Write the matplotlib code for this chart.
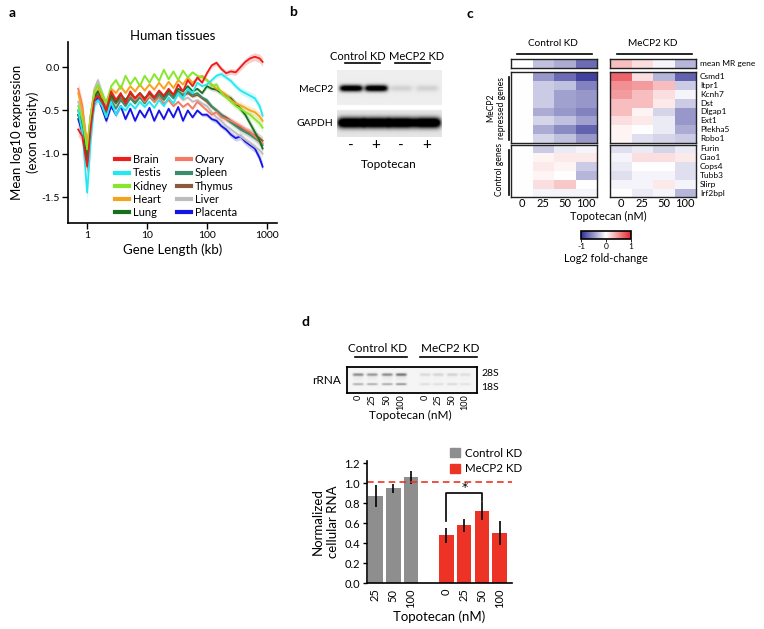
import numpy as np
import matplotlib
matplotlib.use('Agg')
import matplotlib.pyplot as plt
from matplotlib.colors import LinearSegmentedColormap
from matplotlib.lines import Line2D
from matplotlib.patches import Patch

plt.rcParams['font.family'] = ['Lato', 'DejaVu Sans']

# ---------------- DATA ----------------
# Panel a: gene length (log10 kb) and mean log10 expression per tissue
log_kb = [-0.15, -0.08, 0.0, 0.06, 0.12, 0.18, 0.25, 0.32, 0.4, 0.48, 0.56, 0.64, 0.72, 0.8,
          0.88, 0.96, 1.04, 1.12, 1.2, 1.28, 1.36, 1.44, 1.52, 1.6, 1.68, 1.76, 1.84, 1.92,
          2.0, 2.08, 2.16, 2.24, 2.32, 2.4, 2.48, 2.56, 2.64, 2.72, 2.8, 2.88, 2.93]
brain = [-0.72, -0.80, -1.15, -0.70, -0.38, -0.33, -0.40, -0.50, -0.28, -0.38, -0.30, -0.42, -0.28, -0.36,
         -0.30, -0.38, -0.28, -0.35, -0.27, -0.33, -0.25, -0.32, -0.20, -0.28, -0.15, -0.22, -0.12, -0.18,
         -0.07, 0.02, 0.05, -0.02, -0.07, -0.05, -0.06, 0.00, 0.06, 0.10, 0.12, 0.10, 0.06]
testis = [-0.50, -0.75, -1.45, -0.85, -0.42, -0.38, -0.45, -0.58, -0.40, -0.55, -0.45, -0.50, -0.42, -0.48,
          -0.40, -0.46, -0.40, -0.47, -0.38, -0.45, -0.35, -0.42, -0.30, -0.36, -0.25, -0.30, -0.18, -0.22,
          -0.20, -0.15, -0.10, -0.08, -0.12, -0.16, -0.22, -0.27, -0.30, -0.33, -0.36, -0.45, -0.56]
kidney = [-0.45, -0.60, -0.95, -0.55, -0.30, -0.20, -0.30, -0.42, -0.22, -0.15, -0.25, -0.10, -0.20, -0.12,
          -0.22, -0.10, -0.18, -0.08, -0.16, -0.03, -0.14, -0.05, -0.15, -0.04, -0.12, -0.06, -0.10, -0.12,
          -0.15, -0.22, -0.20, -0.30, -0.35, -0.40, -0.45, -0.48, -0.52, -0.55, -0.60, -0.65, -0.70]
heart = [-0.30, -0.50, -0.90, -0.55, -0.28, -0.22, -0.35, -0.40, -0.25, -0.30, -0.22, -0.30, -0.22, -0.28,
         -0.20, -0.27, -0.20, -0.26, -0.18, -0.25, -0.17, -0.24, -0.15, -0.20, -0.12, -0.18, -0.13, -0.10,
         -0.15, -0.20, -0.25, -0.28, -0.32, -0.38, -0.42, -0.44, -0.47, -0.50, -0.52, -0.57, -0.62]
lung = [-0.55, -0.70, -1.10, -0.65, -0.35, -0.28, -0.38, -0.50, -0.32, -0.40, -0.32, -0.38, -0.30, -0.36,
        -0.30, -0.36, -0.30, -0.35, -0.28, -0.34, -0.27, -0.32, -0.25, -0.28, -0.22, -0.28, -0.25, -0.30,
        -0.22, -0.25, -0.26, -0.30, -0.33, -0.36, -0.42, -0.48, -0.55, -0.65, -0.75, -0.85, -0.94]
ovary = [-0.25, -0.45, -0.95, -0.55, -0.30, -0.30, -0.40, -0.45, -0.30, -0.38, -0.33, -0.40, -0.32, -0.38,
         -0.32, -0.40, -0.33, -0.40, -0.35, -0.42, -0.38, -0.45, -0.40, -0.46, -0.42, -0.48, -0.40, -0.45,
         -0.50, -0.55, -0.52, -0.58, -0.60, -0.62, -0.65, -0.68, -0.72, -0.75, -0.80, -0.85, -0.88]
spleen = [-0.55, -0.72, -1.10, -0.65, -0.38, -0.32, -0.45, -0.58, -0.38, -0.48, -0.38, -0.45, -0.36, -0.42,
          -0.35, -0.42, -0.34, -0.40, -0.32, -0.38, -0.30, -0.36, -0.28, -0.32, -0.28, -0.32, -0.30, -0.35,
          -0.38, -0.45, -0.50, -0.55, -0.60, -0.64, -0.68, -0.72, -0.75, -0.78, -0.82, -0.86, -0.90]
thymus = [-0.50, -0.68, -1.05, -0.62, -0.36, -0.28, -0.42, -0.52, -0.35, -0.42, -0.35, -0.42, -0.34, -0.40,
          -0.33, -0.40, -0.32, -0.38, -0.31, -0.37, -0.30, -0.35, -0.28, -0.33, -0.30, -0.34, -0.32, -0.36,
          -0.40, -0.46, -0.50, -0.55, -0.58, -0.62, -0.66, -0.70, -0.73, -0.76, -0.79, -0.82, -0.85]
liver = [-0.40, -0.55, -0.95, -0.55, -0.25, -0.15, -0.30, -0.45, -0.30, -0.38, -0.32, -0.40, -0.30, -0.36,
         -0.32, -0.38, -0.30, -0.36, -0.30, -0.36, -0.30, -0.36, -0.32, -0.38, -0.35, -0.40, -0.38, -0.42,
         -0.45, -0.52, -0.58, -0.62, -0.68, -0.72, -0.76, -0.80, -0.84, -0.88, -0.92, -0.96, -1.00]
placenta = [-0.60, -0.75, -1.10, -0.70, -0.42, -0.35, -0.48, -0.62, -0.45, -0.55, -0.45, -0.60, -0.48, -0.62,
            -0.50, -0.58, -0.47, -0.62, -0.50, -0.60, -0.48, -0.58, -0.46, -0.62, -0.50, -0.58, -0.50, -0.55,
            -0.55, -0.60, -0.62, -0.68, -0.72, -0.78, -0.82, -0.80, -0.86, -0.90, -0.94, -1.05, -1.15]
ci = [0.08, 0.08, 0.10, 0.07, 0.05, 0.04, 0.04, 0.035, 0.03, 0.03, 0.025, 0.025, 0.02, 0.02,
      0.02, 0.02, 0.02, 0.02, 0.02, 0.02, 0.02, 0.02, 0.02, 0.02, 0.02, 0.02, 0.02, 0.02,
      0.025, 0.025, 0.03, 0.03, 0.03, 0.035, 0.035, 0.04, 0.04, 0.045, 0.045, 0.05, 0.05]
tissues = ['Brain', 'Testis', 'Kidney', 'Heart', 'Lung', 'Ovary', 'Spleen', 'Thymus', 'Liver', 'Placenta']
tissue_vals = [brain, testis, kidney, heart, lung, ovary, spleen, thymus, liver, placenta]
tissue_colors = ['#ee1c1c', '#22e8f0', '#86e62a', '#f7a21b', '#16701c', '#f47a63', '#3a8c6a',
                 '#8a5a3c', '#bdbdbd', '#1414e6']

# Panel b: western blot band intensities
blot_lanes = ['-', '+', '-', '+']
mecp2_band = [1.3, 1.3, 0.12, 0.12]
gapdh_band = [1.6, 1.6, 1.6, 1.6]

# Panel c: log2 fold-change heatmaps
doses = ['0', '25', '50', '100']
repressed_genes = ['Csmd1', 'Itpr1', 'Kcnh7', 'Dst', 'Dlgap1', 'Ext1', 'Plekha5', 'Robo1']
control_genes = ['Furin', 'Ciao1', 'Cops4', 'Tubb3', 'Slirp', 'Irf2bpl']
ctrl_mean = [0.0, -0.30, -0.40, -0.70]
mecp2_mean = [0.30, 0.15, -0.05, -0.35]
ctrl_repressed = [[0, -0.50, -0.70, -0.90],
                  [0, -0.25, -0.30, -0.60],
                  [0, -0.25, -0.45, -0.50],
                  [0, -0.25, -0.45, -0.50],
                  [0, -0.40, -0.50, -0.60],
                  [0, -0.20, -0.30, -0.45],
                  [0, -0.40, -0.55, -0.75],
                  [0, -0.20, -0.30, -0.50]]
mecp2_repressed = [[0.70, 0.15, -0.35, -0.75],
                   [0.50, 0.45, 0.30, -0.25],
                   [0.45, 0.30, 0.15, -0.05],
                   [0.30, 0.30, 0.10, -0.25],
                   [0.30, 0.05, -0.20, -0.50],
                   [0.15, 0.10, -0.10, -0.50],
                   [0.05, 0.00, -0.10, -0.40],
                   [0.05, -0.15, -0.20, -0.25]]
ctrl_control = [[0, -0.25, -0.10, -0.05],
                [0, 0.05, 0.10, 0.10],
                [0, 0.10, 0.05, -0.25],
                [0, 0.05, 0.00, -0.35],
                [0, 0.15, 0.25, 0.00],
                [0, -0.05, -0.05, -0.05]]
mecp2_control = [[-0.15, -0.10, -0.20, -0.10],
                 [-0.05, 0.15, 0.15, 0.10],
                 [-0.10, 0.00, 0.00, -0.15],
                 [-0.15, -0.05, -0.05, -0.15],
                 [-0.05, -0.05, 0.10, -0.05],
                 [0.00, -0.10, -0.05, -0.35]]

# Panel d: rRNA gel band intensities and normalized RNA
gel_28s = [0.45, 0.40, 0.45, 0.55, 0.12, 0.14, 0.15, 0.10]
gel_18s = [0.30, 0.30, 0.32, 0.40, 0.10, 0.10, 0.12, 0.08]
ctrl_doses = ['25', '50', '100']
ctrl_rna = [0.87, 0.95, 1.06]
ctrl_err = [0.11, 0.045, 0.065]
kd_doses = ['0', '25', '50', '100']
kd_rna = [0.48, 0.58, 0.72, 0.50]
kd_err = [0.075, 0.065, 0.09, 0.12]

# ---------------- FIGURE ----------------
W, H = 764, 629
fig = plt.figure(figsize=(W / 100, H / 100), dpi=100)


def axpx(x0, y0, x1, y1):
    return fig.add_axes([x0 / W, 1 - y1 / H, (x1 - x0) / W, (y1 - y0) / H])


def ftext(x, y, s, **kw):
    return fig.text(x / W, 1 - y / H, s, **kw)


def fline(x0, y0, x1, y1, **kw):
    kw.setdefault('color', 'black')
    kw.setdefault('lw', 1.2)
    fig.add_artist(Line2D([x0 / W, x1 / W], [1 - y0 / H, 1 - y1 / H], transform=fig.transFigure, **kw))


# panel letters
for lx, ly, lt in [(12, 13, 'a'), (293, 12, 'b'), (470, 14, 'c'), (306, 322, 'd')]:
    ftext(lx, ly, lt, fontsize=10, fontweight='bold', ha='center', va='center')

# ---------- Panel a ----------
ax = axpx(68, 42, 277, 223)
xk = 10 ** np.array(log_kb)
cia = np.array(ci)
handles = {}
for name, vals, col in reversed(list(zip(tissues, tissue_vals, tissue_colors))):
    v = np.array(vals)
    ax.fill_between(xk, v - cia, v + cia, color=col, alpha=0.22, lw=0)
    ax.plot(xk, v, color=col, lw=1.3)
    handles[name] = Line2D([], [], color=col, lw=3)
ax.set_xscale('log')
ax.set_xlim(10 ** -0.32, 10 ** 3.17)
ax.set_ylim(-1.8, 0.29)
ax.set_xticks([1, 10, 100, 1000])
ax.set_xticklabels(['1', '10', '100', '1000'])
ax.xaxis.set_minor_locator(matplotlib.ticker.NullLocator())
ax.set_yticks([0.0, -0.5, -1.0, -1.5])
ax.set_yticklabels(['0.0', '-0.5', '-1.0', '-1.5'])
ax.tick_params(labelsize=7.5, length=4, width=1, direction='out', pad=2)
for s in ['top', 'right']:
    ax.spines[s].set_visible(False)
for s in ['left', 'bottom']:
    ax.spines[s].set_linewidth(1.2)
ax.set_title('Human tissues', fontsize=9.5, pad=1)
ax.set_xlabel('Gene Length (kb)', fontsize=9.5, labelpad=2)
ax.set_ylabel('Mean log10 expression\n(exon density)', fontsize=9.5, labelpad=2, linespacing=1.25)
ax.legend([handles[t] for t in tissues], tissues, ncol=2, frameon=False, loc='upper left',
          bbox_to_anchor=(0.225, 0.38), fontsize=8, handlelength=1.3, handletextpad=0.3,
          columnspacing=0.9, labelspacing=0.2, borderpad=0, borderaxespad=0)

# ---------- Panel b ----------
axb = axpx(337, 70, 442, 137)
ys = np.arange(70, 137, 0.5)
xs = np.arange(337, 442, 0.5)
XX, YY = np.meshgrid(xs, ys)
lane_x = [351, 376, 401, 427]
img = np.ones_like(XX)
img[(YY < 105)] = 0.93
img[(YY >= 110)] = 0.90
dm = np.zeros_like(XX)
dg = np.zeros_like(XX)
for cx, im_, ig in zip(lane_x, mecp2_band, gapdh_band):
    dm += im_ * np.exp(-((XX - cx) / 11.5) ** 6) * np.exp(-((YY - 88) / 3.2) ** 2)
    dg += ig * np.exp(-((XX - cx) / 13.5) ** 6) * np.exp(-((YY - 122.5) / 5.0) ** 2)
img = img * (1 - np.clip(dm + dg, 0, 1))
axb.imshow(img, cmap='gray', vmin=0, vmax=1, extent=(337, 442, 137, 70), aspect='auto',
           interpolation='bilinear')
axb.set_xlim(337, 442)
axb.set_ylim(137, 70)
for s in axb.spines.values():
    s.set_visible(False)
axb.set_yticks([])
axb.set_xticks(lane_x)
axb.set_xticklabels(blot_lanes, fontsize=11)
axb.tick_params(axis='x', length=0, pad=1)
ftext(333, 89, 'MeCP2', fontsize=7.5, ha='right', va='center')
ftext(333, 123, 'GAPDH', fontsize=7.5, ha='right', va='center')
ftext(358, 57, 'Control KD', fontsize=8, ha='center', va='center')
ftext(417, 57, 'MeCP2 KD', fontsize=8, ha='center', va='center')
fline(345, 63, 380, 63)
fline(395, 63, 430, 63)
ftext(389, 165, 'Topotecan', fontsize=8.5, ha='center', va='center')

# ---------- Panel c ----------
cmap = LinearSegmentedColormap.from_list('bwr_c', ['#2e2e94', '#ffffff', '#e3242b'])


def heat(x0, x1, y0, y1, data):
    a = axpx(x0, y0, x1, y1)
    arr = np.array(data, dtype=float)
    if arr.ndim == 1:
        arr = arr[None, :]
    m = a.pcolormesh(arr, cmap=cmap, vmin=-1, vmax=1)
    a.set_xlim(0, arr.shape[1])
    a.set_ylim(arr.shape[0], 0)
    a.set_xticks([])
    a.set_yticks([])
    for s in a.spines.values():
        s.set_linewidth(1.0)
        s.set_color('#222222')
    return a, m


panels = [(511, 597, ctrl_mean, ctrl_repressed, ctrl_control),
          (610, 696, mecp2_mean, mecp2_repressed, mecp2_control)]
for x0, x1, mn, rep, con in panels:
    heat(x0, x1, 59, 68, mn)
    heat(x0, x1, 72, 143, rep)
    a3, mesh = heat(x0, x1, 144.5, 197.5, con)
    a3.set_xticks(np.arange(4) + 0.5)
    a3.set_xticklabels(doses, fontsize=8)
    a3.tick_params(axis='x', length=0, pad=0.5)

ftext(553, 43, 'Control KD', fontsize=7.2, ha='center', va='center')
ftext(653, 43, 'MeCP2 KD', fontsize=7.2, ha='center', va='center')
fline(517, 54, 592, 54)
fline(617, 54, 692, 54)
ftext(700, 63.5, 'mean MR gene', fontsize=6, ha='left', va='center')
for i, g in enumerate(repressed_genes):
    ftext(700, 72 + (i + 0.5) * 71 / 8, g, fontsize=6, ha='left', va='center')
for i, g in enumerate(control_genes):
    ftext(700, 144.5 + (i + 0.5) * 53 / 6, g, fontsize=6, ha='left', va='center')
ftext(608, 216.5, 'Topotecan (nM)', fontsize=7.8, ha='center', va='center')
ftext(496, 108, 'MeCP2\nrepressed genes', fontsize=6.2, ha='center', va='center', rotation=90,
      linespacing=1.15)
fline(509, 77, 509, 140, lw=1.2)
ftext(500, 169, 'Control genes', fontsize=6.2, ha='center', va='center', rotation=90)
fline(509, 150, 509, 195, lw=1.2)

cax = axpx(581, 231, 631, 239)
cb = fig.colorbar(mesh, cax=cax, orientation='horizontal')
cb.set_ticks([-1, 0, 1])
cb.set_ticklabels(['-1', '0', '1'])
cb.ax.tick_params(labelsize=6, length=2, width=0.6, pad=1)
cb.outline.set_linewidth(1.2)
ftext(606, 259, 'Log2 fold-change', fontsize=7.8, ha='center', va='center')

# ---------- Panel d: gel ----------
axg = axpx(347, 367, 477, 393)
gys = np.arange(367, 393, 0.25)
gxs = np.arange(347, 477, 0.5)
GX, GY = np.meshgrid(gxs, gys)
gel_x = [358, 372, 387, 401, 425, 438, 452, 465]
d = np.zeros_like(GX)
for cx, i28, i18 in zip(gel_x, gel_28s, gel_18s):
    band = np.exp(-((GX - cx) / 5.5) ** 6)
    d += band * (i28 * np.exp(-((GY - 374.5) / 1.4) ** 2) + i18 * np.exp(-((GY - 384) / 1.1) ** 2))
    d += band * 0.08 * i28 * np.exp(-((GY - 378) / 2.5) ** 2)
gimg = 0.96 * (1 - np.clip(d, 0, 1))
axg.imshow(gimg, cmap='gray', vmin=0, vmax=1, extent=(347, 477, 393, 367), aspect='auto',
           interpolation='bilinear')
axg.set_xlim(347, 477)
axg.set_ylim(393, 367)
for s in axg.spines.values():
    s.set_linewidth(1.3)
axg.set_yticks([])
axg.set_xticks(gel_x)
axg.set_xticklabels(doses + doses, rotation=90, fontsize=6.6)
axg.tick_params(axis='x', length=0, pad=1)
ftext(327, 380, 'rRNA', fontsize=8.5, ha='center', va='center')
ftext(481, 373, '28S', fontsize=7.5, ha='left', va='center')
ftext(481, 387, '18S', fontsize=7.5, ha='left', va='center')
ftext(378, 349, 'Control KD', fontsize=8.5, ha='center', va='center')
ftext(450, 349, 'MeCP2 KD', fontsize=8.5, ha='center', va='center')
fline(355, 357, 407, 357)
fline(420, 357, 477, 357)
ftext(410, 415.5, 'Topotecan (nM)', fontsize=8.5, ha='center', va='center')

# ---------- Panel d: bars ----------
axd = axpx(367, 461, 512, 583)
pos_c = [0, 1, 2]
pos_k = [4, 5, 6, 7]
axd.bar(pos_c, ctrl_rna, width=0.82, color='#8e8e8e', label='Control KD')
axd.bar(pos_k, kd_rna, width=0.82, color='#ec3325', label='MeCP2 KD')
axd.errorbar(pos_c, ctrl_rna, yerr=ctrl_err, fmt='none', ecolor='black', elinewidth=1.2, capsize=0)
axd.errorbar(pos_k, kd_rna, yerr=kd_err, fmt='none', ecolor='black', elinewidth=1.2, capsize=0)
axd.axhline(1.01, color='#ec3325', lw=1.2, ls=(0, (4, 2.5)))
axd.plot([4, 4, 6, 6], [0.62, 0.90, 0.90, 0.82], color='black', lw=1.2)
axd.text(5.05, 0.955, '*', ha='center', va='center', fontsize=9, family='DejaVu Sans')
axd.set_xlim(-0.48, 7.7)
axd.set_ylim(0, 1.22)
axd.set_yticks([0.0, 0.2, 0.4, 0.6, 0.8, 1.0, 1.2])
axd.set_yticklabels(['0.0', '0.2', '0.4', '0.6', '0.8', '1.0', '1.2'])
axd.set_xticks(pos_c + pos_k)
axd.set_xticklabels(ctrl_doses + kd_doses, rotation=90)
axd.tick_params(labelsize=8, length=3, width=1, pad=2)
axd.tick_params(axis='x', length=0, pad=4)
for s in ['top', 'right']:
    axd.spines[s].set_visible(False)
for s in ['left', 'bottom']:
    axd.spines[s].set_linewidth(1.2)
axd.set_xlabel('Topotecan (nM)', fontsize=9.5, labelpad=2)
axd.set_ylabel('Normalized\ncellular RNA', fontsize=9.5, labelpad=4, linespacing=1.3)
axd.legend(handles=[Patch(color='#8e8e8e'), Patch(color='#ec3325')], labels=['Control KD', 'MeCP2 KD'],
           loc='upper left', bbox_to_anchor=(0.575, 1.11), frameon=False, fontsize=8.3,
           handlelength=0.8, handleheight=0.8, handletextpad=0.5, labelspacing=0.4,
           borderpad=0, borderaxespad=0)

fig.savefig('out.png', dpi=100)
